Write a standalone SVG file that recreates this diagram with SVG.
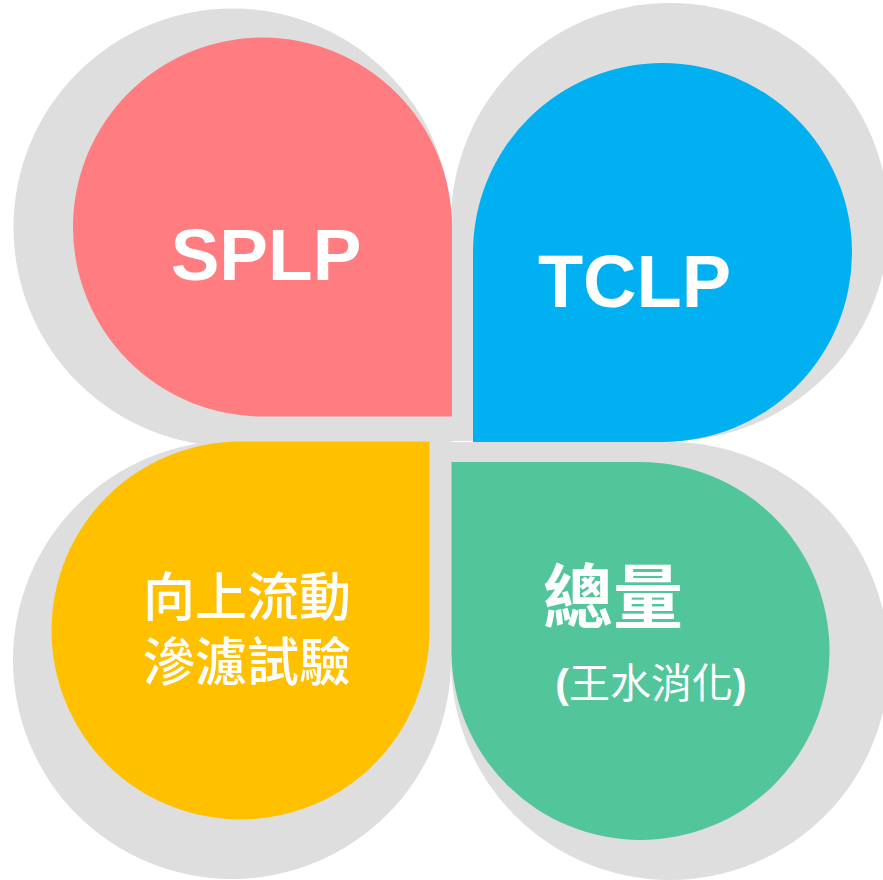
<svg xmlns="http://www.w3.org/2000/svg" width="883" height="880" viewBox="0 0 883 880">
<style>
.bg{fill:#DEDEDE}
.t{fill:#FFFFFF;font-family:"Liberation Sans","Noto Sans CJK TC",Arial,sans-serif;font-weight:bold;text-anchor:middle}
.m{font-weight:500}
.c{font-family:"Noto Sans CJK TC","Noto Sans CJK SC",sans-serif}
</style>
<rect width="883" height="880" fill="#FFFFFF"/>
<g id="backdrops">
<path class="bg" d="M13.5,227.5 A219,219 0 0 1 232.5,8.5 A219,219 0 0 1 451.5,227.5 L451.5,446.5 L232.5,446.5 A219,219 0 0 1 13.5,227.5 Z"/>
<path class="bg" d="M451,441 L451,222 A219,219 0 0 1 670,3 A219,219 0 0 1 889,222 A219,219 0 0 1 670,441 Z"/>
<path class="bg" d="M451,441 L451,660 A219,219 0 0 1 232,879 A219,219 0 0 1 13,660 A219,219 0 0 1 232,441 Z"/>
<path class="bg" d="M451,442 L670,442 A219,219 0 0 1 889,661 A219,219 0 0 1 670,880 A219,219 0 0 1 451,661 Z"/>
</g>
<g id="splp">
<path fill="#FF7C80" d="M73,227 A189.5,189.5 0 0 1 262.5,37.5 A189.5,189.5 0 0 1 452,227 L452,416.5 L262.5,416.5 A189.5,189.5 0 0 1 73,227 Z"/>
<text class="t" x="266" y="280" font-size="73">SPLP</text>
</g>
<g id="tclp">
<path fill="#00B0F0" d="M473,442 L473,252.5 A189.5,189.5 0 0 1 662.5,63 A189.5,189.5 0 0 1 852,252.5 A189.5,189.5 0 0 1 662.5,442 Z"/>
<text class="t" x="634.5" y="307" font-size="74">TCLP</text>
</g>
<g id="upflow">
<path fill="#FFC000" d="M429.5,441.5 L429.5,630.5 A189,189 0 0 1 240.5,819.5 A189,189 0 0 1 51.5,630.5 A189,189 0 0 1 240.5,441.5 Z"/>
<text class="t m" x="247" y="616" font-size="52">向上流動</text>
<text class="t m" x="247" y="681" font-size="52">滲濾試驗</text>
</g>
<g id="total">
<path fill="#53C59A" d="M451.5,462 L640.5,462 A189,189 0 0 1 829.5,651 A189,189 0 0 1 640.5,840 A189,189 0 0 1 451.5,651 Z"/>
<text class="t c" x="613" y="623" font-size="70">總量</text>
<text class="t" x="651" y="698" font-size="41">(<tspan class="c" font-weight="normal">王水消化</tspan>)</text>
</g>
</svg>
